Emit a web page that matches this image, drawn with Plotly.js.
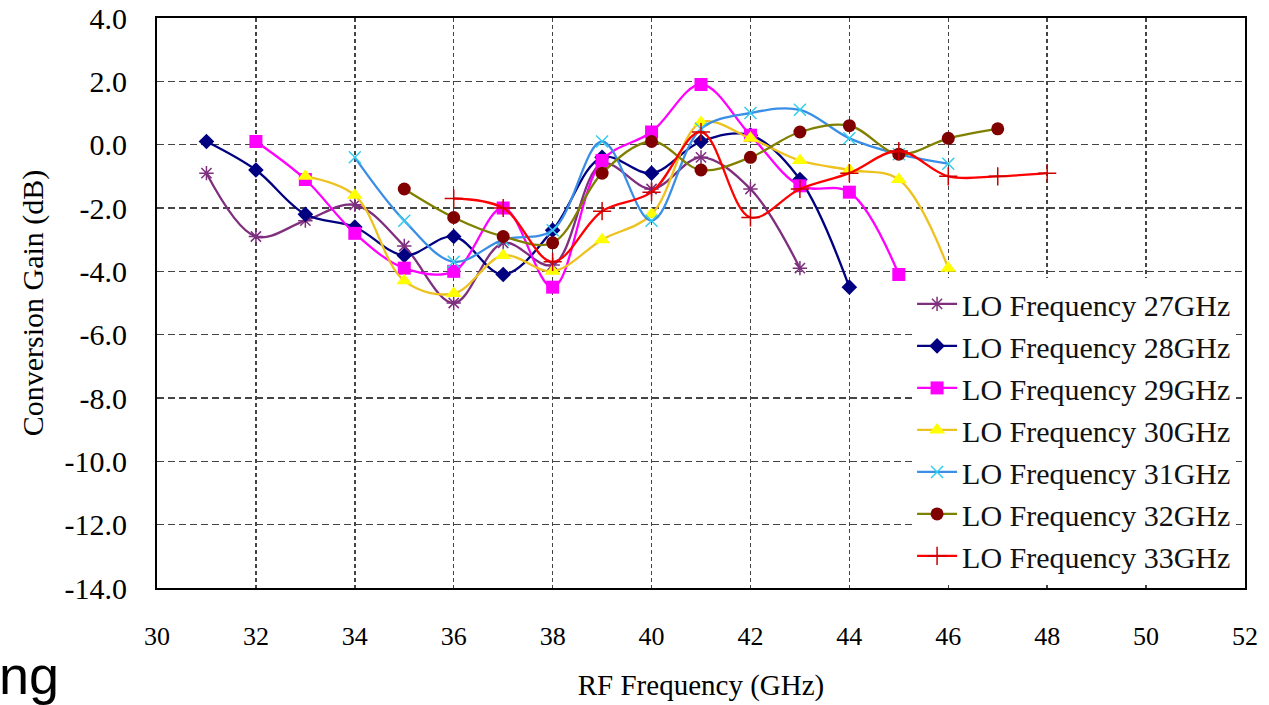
<!DOCTYPE html>
<html>
<head>
<meta charset="utf-8">
<script src="https://cdn.plot.ly/plotly-3.0.1.min.js"></script>
<style>
html,body{margin:0;padding:0;background:#fff;}
#chart{width:1269px;height:705px;}
</style>
</head>
<body>
<div id="chart"></div>
<script>
// RF frequency (GHz) for each LO series
const rf27 = [31,32,33,34,35,36,37,38,39,40,41,42,43];
const rf28 = [31,32,33,34,35,36,37,38,39,40,41,42,43,44];
const rf29 = [32,33,34,35,36,37,38,39,40,41,42,43,44,45];
const rf30 = [33,34,35,36,37,38,39,40,41,42,43,44,45,46];
const rf31 = [34,35,36,37,38,39,40,41,42,43,44,45,46];
const rf32 = [35,36,37,38,39,40,41,42,43,44,45,46,47];
const rf33 = [36,37,38,39,40,41,42,43,44,45,46,47,48];

// Conversion gain (dB)
const gain27 = [-0.9,-2.9,-2.4,-1.9,-3.2,-5.0,-3.1,-3.8,-0.6,-1.4,-0.4,-1.4,-3.9];
const gain28 = [0.1,-0.8,-2.2,-2.6,-3.5,-2.9,-4.1,-2.7,-0.4,-0.9,0.1,0.3,-1.1,-4.5];
const gain29 = [0.1,-1.1,-2.8,-3.9,-4.0,-2.0,-4.5,-0.5,0.4,1.9,0.3,-1.3,-1.5,-4.1];
const gain30 = [-1.0,-1.6,-4.3,-4.7,-3.5,-4.0,-3.0,-2.2,0.7,0.2,-0.5,-0.8,-1.1,-3.9];
const gain31 = [-0.4,-2.4,-3.7,-3.0,-2.7,0.1,-2.4,0.5,1.0,1.1,0.2,-0.3,-0.6];
const gain32 = [-1.4,-2.3,-2.9,-3.1,-0.9,0.1,-0.8,-0.4,0.4,0.6,-0.3,0.2,0.5];
const gain33 = [-1.7,-2.0,-3.7,-2.1,-1.5,0.4,-2.3,-1.4,-0.9,-0.2,-1.0,-1.0,-0.9];

const seriesNames = ["LO Frequency 27GHz","LO Frequency 28GHz","LO Frequency 29GHz",
  "LO Frequency 30GHz","LO Frequency 31GHz","LO Frequency 32GHz","LO Frequency 33GHz"];

const xTickVals = [30,32,34,36,38,40,42,44,46,48,50,52];
const yTickVals = [4,2,0,-2,-4,-6,-8,-10,-12,-14];

const styles = [
  {line:'#7E2F7E', marker:'#7E2F7E', symbol:'asterisk-open', size:12},
  {line:'#000080', marker:'#000080', symbol:'diamond', size:12},
  {line:'#FF00FF', marker:'#FF00FF', symbol:'square', size:13},
  {line:'#EEC21E', marker:'#FFFF00', symbol:'triangle-up', size:14},
  {line:'#3A8EE6', marker:'#33CCEE', symbol:'x-thin-open', size:12},
  {line:'#808000', marker:'#800000', symbol:'circle', size:13},
  {line:'#FF0000', marker:'#CC0000', symbol:'cross-thin-open', size:13}
];
const xs = [rf27,rf28,rf29,rf30,rf31,rf32,rf33];
const ys = [gain27,gain28,gain29,gain30,gain31,gain32,gain33];

const traces = xs.map((x,i)=>{
  const s = styles[i];
  const open = s.symbol.indexOf('open')>=0;
  return {
    x: x, y: ys[i], name: seriesNames[i], type:'scatter', mode:'lines+markers',
    legendgroup: 'g'+i,
    line:{color:s.line, width:2.3, shape:'spline', smoothing:1},
    marker:{symbol:s.symbol, size:s.size, color:s.marker,
            line:{color:s.marker, width: open ? 1.5 : 0}}
  };
});

const serif = '"Liberation Serif","Times New Roman",serif';
const layout = {
  width:1269, height:705,
  margin:{l:157, r:24, t:18, b:117},
  paper_bgcolor:'#fff', plot_bgcolor:'#fff',
  showlegend:true,
  font:{family:serif, color:'#000'},
  xaxis:{
    range:[30,52], tickvals:xTickVals, ticktext:xTickVals.map(String),
    showgrid:true, gridcolor:'#444', gridwidth:1.5, griddash:'4px,3px',
    showline:true, linecolor:'#000', linewidth:2, mirror:true,
    ticks:'', ticklabelstandoff:24, zeroline:false,
    tickfont:{family:serif, size:26, color:'#000'},
    title:{text:'RF Frequency (GHz)', font:{family:serif, size:29, color:'#000'}, standoff:24}
  },
  yaxis:{
    range:[-14,4], tickvals:yTickVals, ticktext:yTickVals.map(v=>v.toFixed(1)),
    showgrid:true, gridcolor:'#444', gridwidth:1.5, griddash:'7px,4px',
    showline:true, linecolor:'#000', linewidth:2, mirror:true,
    ticks:'', ticklabelstandoff:22, zeroline:false,
    tickfont:{family:serif, size:30, color:'#000'},
    title:{text:'Conversion Gain (dB)', font:{family:serif, size:30, color:'#000'}, standoff:12}
  },
  legend:{
    x:0.694, y:0.544, xanchor:'left', yanchor:'top',
    bgcolor:'#fff', borderwidth:0,
    font:{family:serif, size:30, color:'#111'},
    tracegroupgap:0, itemwidth:40
  },
  annotations:[{
    text:'ng', xref:'paper', yref:'paper', x:-0.147, y:-0.097,
    xanchor:'left', yanchor:'top', showarrow:false,
    font:{family:'"Liberation Sans",Arial,sans-serif', size:54, color:'#000'}
  }]
};

Plotly.newPlot('chart', traces, layout, {displayModeBar:false, staticPlot:true});
</script>
</body>
</html>
